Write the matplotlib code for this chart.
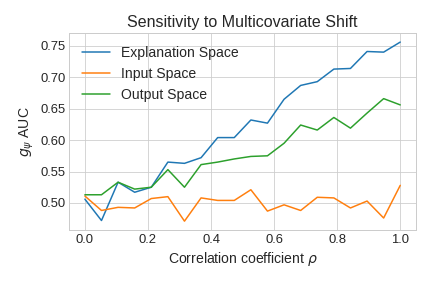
import numpy as np
import matplotlib
matplotlib.use("Agg")
import matplotlib.pyplot as plt

plt.style.use("seaborn-v0_8-whitegrid")
plt.rcParams["font.family"] = ["Liberation Sans", "DejaVu Sans"]

rho = np.linspace(0, 1, 20)
explanation = [0.506, 0.472, 0.533, 0.517, 0.525, 0.565, 0.563, 0.572, 0.604, 0.604,
               0.632, 0.627, 0.665, 0.687, 0.693, 0.713, 0.714, 0.741, 0.740, 0.756]
inputs = [0.511, 0.488, 0.493, 0.492, 0.507, 0.510, 0.471, 0.508, 0.504, 0.504,
          0.521, 0.487, 0.497, 0.488, 0.509, 0.508, 0.492, 0.503, 0.476, 0.528]
output = [0.513, 0.513, 0.533, 0.522, 0.525, 0.553, 0.525, 0.561, 0.565, 0.570,
          0.574, 0.575, 0.595, 0.624, 0.616, 0.636, 0.619, 0.643, 0.666, 0.656]

fig, ax = plt.subplots(figsize=(6, 4), dpi=72)
ax.plot(rho, explanation, label="Explanation Space")
ax.plot(rho, inputs, label="Input Space")
ax.plot(rho, output, label="Output Space")

ax.set_title("Sensitivity to Multicovariate Shift", fontsize=16)
ax.set_xlabel(r"Correlation coefficient $\rho$", fontsize=14)
ax.set_ylabel(r"$g_\psi$ AUC", fontsize=14)
ax.tick_params(labelsize=13)
ax.legend(loc="upper left", fontsize=14)

plt.subplots_adjust(left=0.16, right=0.963, top=0.885, bottom=0.201)
plt.savefig("out.png", dpi=72)
